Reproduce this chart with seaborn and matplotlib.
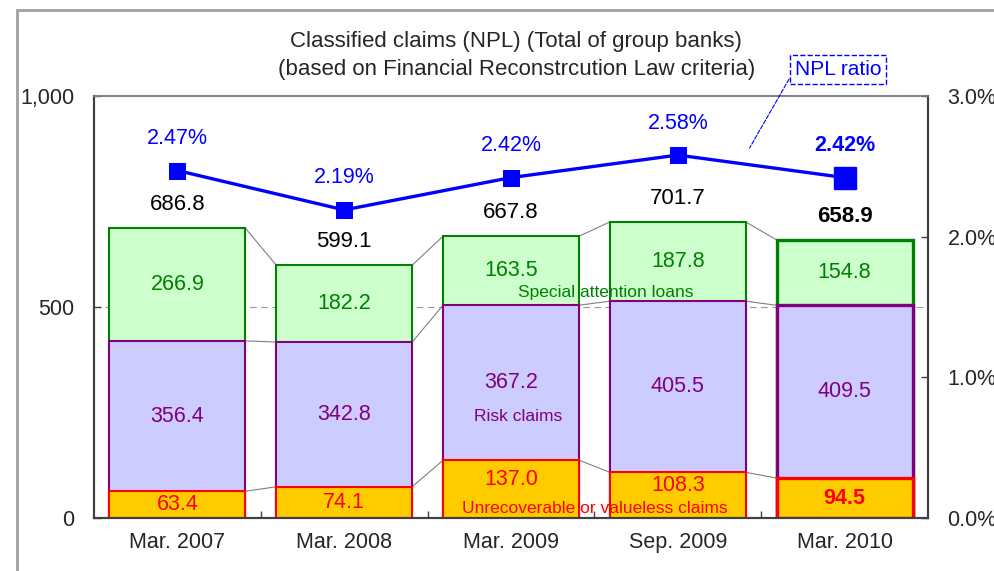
import numpy as np
import matplotlib
matplotlib.use("Agg")
import matplotlib.pyplot as plt
from matplotlib.patches import Rectangle
import seaborn as sns

# Data
periods = ["Mar. 2007", "Mar. 2008", "Mar. 2009", "Sep. 2009", "Mar. 2010"]
unrecoverable = [63.4, 74.1, 137.0, 108.3, 94.5]
risk = [356.4, 342.8, 367.2, 405.5, 409.5]
special = [266.9, 182.2, 163.5, 187.8, 154.8]
totals = [686.8, 599.1, 667.8, 701.7, 658.9]
npl_ratio = [2.47, 2.19, 2.42, 2.58, 2.42]

sns.set_style("ticks")
plt.rcParams["font.family"] = ["Liberation Sans", "DejaVu Sans"]

fig = plt.figure(figsize=(9.95, 5.71), dpi=100)
ax = fig.add_axes([0.0945, 0.0928, 0.8382, 0.7391])

# outer frame of the slide
fig.patches.append(Rectangle((17 / 995, -0.1), 1.0, (561 / 571) + 0.1,
                             transform=fig.transFigure, fill=False,
                             ec="#A0A0A0", lw=2))

low = np.array(unrecoverable)
mid = low + np.array(risk)
top = mid + np.array(special)

W = 0.815
# stacked bars drawn from the top layer down
sns.barplot(x=periods, y=top, color="#CCFFCC", edgecolor="#008000",
            linewidth=1.5, width=W, saturation=1, ax=ax)
sns.barplot(x=periods, y=mid, color="#CCCCFF", edgecolor="#800080",
            linewidth=1.5, width=W, saturation=1, ax=ax)
sns.barplot(x=periods, y=low, color="#FFCC00", edgecolor="#FF0000",
            linewidth=1.5, width=W, saturation=1, ax=ax)
for k in (4, 9, 14):
    ax.patches[k].set_linewidth(2.4)

ax.axhline(500, color="#999999", lw=0.8, ls=(0, (6, 4)), zorder=0.5)

# connectors between neighbouring bars
h = W / 2
for i in range(len(periods) - 1):
    for layer in (low, mid, top):
        ax.plot([i + h, i + 1 - h], [layer[i], layer[i + 1]],
                color="#808080", lw=0.8, zorder=0.6)

# value labels
for i in range(len(periods)):
    last = i == len(periods) - 1
    fw = "bold" if last else "normal"
    lift = 7 if i in (2, 3) else 0  # keep clear of the category caption
    ax.annotate(f"{unrecoverable[i]:.1f}", (i, low[i] / 2), xytext=(0, lift),
                textcoords="offset points", ha="center", va="center",
                color="#FF0000", fontsize=15.5, fontweight=fw, zorder=5)
    ax.text(i, low[i] + risk[i] / 2, f"{risk[i]:.1f}", ha="center", va="center",
            color="#800080", fontsize=15.5, zorder=5)
    ax.text(i, mid[i] + special[i] / 2, f"{special[i]:.1f}", ha="center", va="center",
            color="#008000", fontsize=15.5, zorder=5)
    ax.annotate(f"{totals[i]:.1f}", (i, top[i]), xytext=(0, 17),
                textcoords="offset points", ha="center", va="center",
                color="black", fontsize=16, fontweight=fw)

ax.text(2.57, 535, "Special attention loans", color="#008000", fontsize=12.5,
        ha="center", va="center", zorder=5)
ax.text(2.04, 240, "Risk claims", color="#800080", fontsize=12.5,
        ha="center", va="center", zorder=5)
ax.text(2.5, 22, "Unrecoverable or valueless claims", color="#FF0000",
        fontsize=12.5, ha="center", va="center", zorder=5)

ax.set_xlim(-0.5, 4.5)
ax.set_ylim(0, 1000)
ax.set_yticks([0, 500, 1000])
ax.set_yticklabels(["0", "500", "1,000"], fontsize=15.5)
ax.tick_params(axis="y", direction="in", length=5, width=1, color="#404040", pad=14)
ax.tick_params(axis="x", which="major", length=0, labelsize=15.5, pad=10)
ax.set_xticks([0.5, 1.5, 2.5, 3.5], minor=True)
ax.tick_params(axis="x", which="minor", direction="in", length=5, width=1,
               color="#404040")
ax.set_xlabel("")
ax.set_ylabel("")

# NPL ratio line on the right axis
ax2 = ax.twinx()
xs = np.arange(len(periods))
sns.lineplot(x=xs, y=npl_ratio, color="#0000FF", lw=2.4, marker="s",
             markersize=11, markeredgecolor="#0000FF", ax=ax2)
ax2.plot([xs[-1]], [npl_ratio[-1]], marker="s", markersize=16,
         color="#0000FF", ls="none")
for i, v in enumerate(npl_ratio):
    ax2.annotate(f"{v:.2f}%", (i, v), xytext=(0, 23), textcoords="offset points",
                 ha="center", va="center", color="#0000FF", fontsize=15.5,
                 fontweight="bold" if i == len(npl_ratio) - 1 else "normal")
ax2.set_ylim(0, 3.0)
ax2.set_yticks([0, 1, 2, 3])
ax2.set_yticklabels(["0.0%", "1.0%", "2.0%", "3.0%"], fontsize=15.5)
ax2.tick_params(axis="y", direction="in", length=5, width=1, color="#404040", pad=14)
ax2.set_xlim(-0.5, 4.5)

ax2.annotate("NPL ratio", xy=(3.43, 2.63), xytext=(3.96, 3.19),
             ha="center", va="center", color="#0000FF", fontsize=15,
             bbox=dict(boxstyle="square,pad=0.25", fc="white", ec="#0000FF",
                       ls="--", lw=1),
             arrowprops=dict(arrowstyle="-", color="#0000FF", ls="--", lw=0.8,
                             shrinkA=0, shrinkB=0, relpos=(0, 0.5)),
             annotation_clip=False)

for a in (ax, ax2):
    for side in ("left", "right", "bottom"):
        a.spines[side].set_color("#404040")
        a.spines[side].set_linewidth(1.5)
    a.spines["top"].set_color("#808080")
    a.spines["top"].set_linewidth(1.2)

fig.text(0.519, 0.928, "Classified claims (NPL) (Total of group banks)",
         ha="center", va="center", fontsize=16)
fig.text(0.519, 0.879, "(based on Financial Reconstrcution Law criteria)",
         ha="center", va="center", fontsize=16)

fig.savefig("out.png", dpi=100)
